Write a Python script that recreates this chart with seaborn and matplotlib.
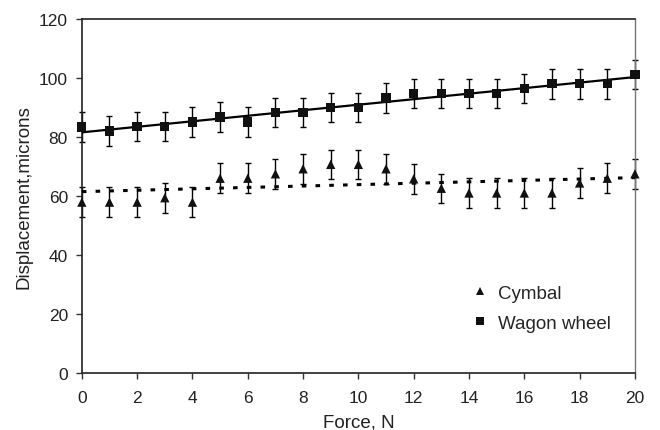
import numpy as np
import pandas as pd
import matplotlib
matplotlib.use("Agg")
import matplotlib.pyplot as plt
import seaborn as sns

# values
force = list(range(0, 21))
cymbal = [57.9, 57.9, 57.9, 59.4, 57.9, 66.0, 66.0, 67.5, 69.2, 70.7, 70.7,
          69.2, 65.8, 62.6, 61.0, 61.0, 61.0, 61.0, 64.4, 66.0, 67.5]
wagon = [83.4, 82.0, 83.5, 83.5, 85.0, 86.8, 85.0, 88.2, 88.2, 90.0, 90.0,
         93.2, 94.7, 94.7, 94.7, 94.7, 96.4, 98.0, 98.0, 98.0, 101.1]
cymbal_err = [5] * 21
wagon_err = [5] * 21

df = pd.DataFrame({
    "Force, N": force * 2,
    "Displacement, microns": cymbal + wagon,
    "series": ["Cymbal"] * 21 + ["Wagon wheel"] * 21,
})

sns.set_style("ticks")
plt.rcParams["font.family"] = ["Liberation Sans", "DejaVu Sans"]

fig = plt.figure(figsize=(6.6, 4.31), dpi=100)
ax = fig.add_axes([0.124, 0.132, 0.838, 0.822])

# error bars
for vals, errs in [(cymbal, cymbal_err), (wagon, wagon_err)]:
    eb = ax.errorbar(force, vals, yerr=errs, fmt="none", ecolor="black",
                     elinewidth=1, capsize=2.5, capthick=1, zorder=2)
    for art in eb.lines[1] + eb.lines[2]:
        art.set_clip_on(False)

# linear trend lines
sns.regplot(data=df[df.series == "Cymbal"], x="Force, N", y="Displacement, microns",
            scatter=False, ci=None, ax=ax,
            line_kws={"color": "black", "lw": 2.2, "ls": (0, (1.5, 3)), "zorder": 3})
sns.regplot(data=df[df.series == "Wagon wheel"], x="Force, N", y="Displacement, microns",
            scatter=False, ci=None, ax=ax,
            line_kws={"color": "black", "lw": 1.6, "zorder": 3})

sns.scatterplot(data=df, x="Force, N", y="Displacement, microns", style="series",
                markers={"Cymbal": "^", "Wagon wheel": "s"}, color="#111111",
                s=45, edgecolor="none", linewidth=0, ax=ax, zorder=4, clip_on=False)

ax.set_xlim(0, 20)
ax.set_ylim(0, 120)
ax.set_xticks(range(0, 21, 2))
ax.set_yticks(range(0, 121, 20))
ax.tick_params(axis="both", labelsize=12.5, direction="out", length=4,
               width=1, color="#333333", labelcolor="#222222")
ax.tick_params(axis="x", pad=8)
ax.tick_params(axis="y", pad=6)
ax.set_xlabel("Force, N", fontsize=13.5, color="#222222", labelpad=6)
ax.set_ylabel("Displacement,microns", fontsize=13.5, color="#222222", labelpad=5)

for side in ["left", "bottom", "top"]:
    ax.spines[side].set_color("#222222")
    ax.spines[side].set_linewidth(1.2)
ax.spines["right"].set_color("#777777")
ax.spines["right"].set_linewidth(1.0)

handles, labels = ax.get_legend_handles_labels()
leg = ax.legend(handles, labels, title=None, frameon=False, fontsize=13.5,
                loc="upper left", bbox_to_anchor=(0.655, 0.298),
                handletextpad=0.0, labelspacing=0.7, markerscale=0.8)

fig.savefig("out.png", dpi=100)
